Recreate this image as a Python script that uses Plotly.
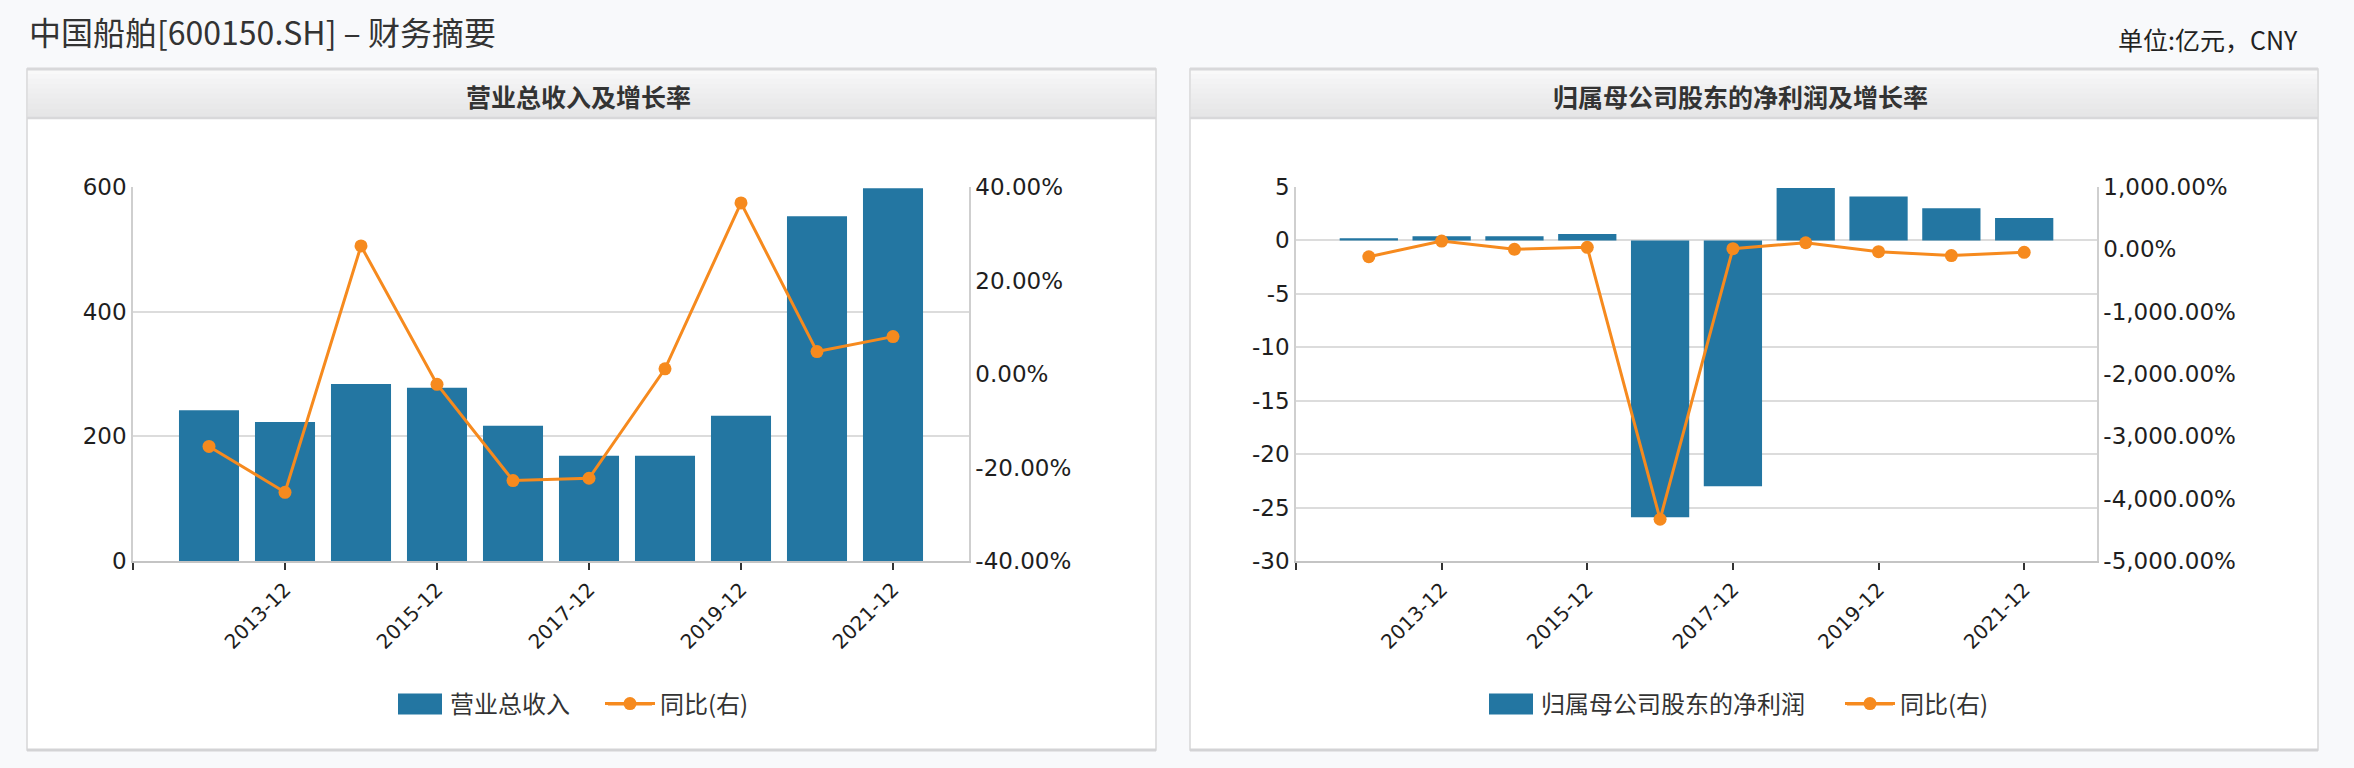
import plotly.graph_objects as go

# ---------------- data ----------------
categories = ["2012-12", "2013-12", "2014-12", "2015-12", "2016-12",
              "2017-12", "2018-12", "2019-12", "2020-12", "2021-12"]
revenue = [242, 223, 284, 278, 217, 169, 169, 233, 553, 598]          # 亿元
revenue_yoy = [-15.5, -25.3, 27.4, -2.2, -22.8, -22.3, 1.1, 36.6, 4.8, 8.0]  # %
net_profit = [0.2, 0.4, 0.4, 0.6, -25.9, -23.0, 4.9, 4.1, 3.0, 2.1]   # 亿元
profit_yoy = [-119, 133, 0, 32, -4330, 11, 106, -38, -100, -48]       # %

rev_ticks = [0, 200, 400, 600]
rev_pct_ticks = [-40, -20, 0, 20, 40]
np_ticks = [-30, -25, -20, -15, -10, -5, 0, 5]
np_pct_ticks = [-5000, -4000, -3000, -2000, -1000, 0, 1000]

title_text = "中国船舶[600150.SH] – 财务摘要"
unit_text = "单位:亿元，CNY"
panel1_title = "营业总收入及增长率"
panel2_title = "归属母公司股东的净利润及增长率"
bar1_name = "营业总收入"
bar2_name = "归属母公司股东的净利润"
line_name = "同比(右)"

# ---------------- style ----------------
W, H = 2354, 768
BLUE = "#2376a2"
ORANGE = "#f68a1e"
GRID = "#dcdcdc"
AXIS = "#cfcfcf"
TXT = "#1e1e1e"
CJK = "Noto Sans CJK SC, Noto Sans, sans-serif"
NUM = "DejaVu Sans, Verdana, sans-serif"


def px(x):
    return x / W


def py(y):
    return 1 - y / H


xi = list(range(len(categories)))
odd = [i for i in xi if i % 2 == 1]
xtickvals = [-1] + odd
xticktext = [""] + [categories[i] for i in odd]

fig = go.Figure()
fig.add_trace(go.Bar(x=xi, y=revenue, name=bar1_name, marker_color=BLUE,
                     marker_line_width=0, width=0.79, xaxis="x", yaxis="y",
                     legend="legend"))
fig.add_trace(go.Scatter(x=xi, y=revenue_yoy, name=line_name, mode="lines+markers",
                         line=dict(color=ORANGE, width=3),
                         marker=dict(color=ORANGE, size=13),
                         xaxis="x", yaxis="y2", legend="legend2"))
fig.add_trace(go.Bar(x=xi, y=net_profit, name=bar2_name, marker_color=BLUE,
                     marker_line_width=0, width=0.8, xaxis="x2", yaxis="y3",
                     legend="legend3"))
fig.add_trace(go.Scatter(x=xi, y=profit_yoy, name=line_name, mode="lines+markers",
                         line=dict(color=ORANGE, width=3),
                         marker=dict(color=ORANGE, size=13),
                         xaxis="x2", yaxis="y4", legend="legend4"))

ytop, ybot = 187, 561
common_x = dict(range=[-1, 10], tickmode="array", tickvals=xtickvals, ticktext=xticktext,
                tickangle=-45, ticks="outside", ticklen=7, tickwidth=1.5, tickcolor="#333",
                showline=True, linecolor="#c4c4c4", linewidth=2, showgrid=False,
                zeroline=False, tickfont=dict(family=NUM, size=20, color=TXT),
                fixedrange=True, automargin=False)
common_y = dict(showgrid=True, gridcolor=GRID, gridwidth=1.5, showline=True,
                linecolor=AXIS, linewidth=1.5, zeroline=False, ticks="",
                tickfont=dict(family=NUM, size=23, color=TXT), fixedrange=True,
                automargin=False)
common_y2 = dict(showgrid=False, showline=True, linecolor=AXIS, linewidth=1.5,
                 zeroline=False, ticks="", tickfont=dict(family=NUM, size=23, color=TXT),
                 fixedrange=True, automargin=False)


def legend_at(x_start):
    return dict(orientation="h", x=px(x_start), xanchor="left", y=py(704),
                yanchor="middle", font=dict(family=CJK, size=24, color="#333"),
                bgcolor="rgba(0,0,0,0)", borderwidth=0, itemwidth=50,
                itemclick=False, itemdoubleclick=False)


fig.update_layout(
    width=W, height=H, autosize=False,
    margin=dict(l=0, r=0, t=0, b=0, pad=0, autoexpand=False),
    paper_bgcolor="#f8f9fb", plot_bgcolor="white",
    xaxis=dict(domain=[px(133), px(969)], anchor="y", **common_x),
    yaxis=dict(domain=[py(ybot), py(ytop)], anchor="x", range=[0, 600],
               tickvals=rev_ticks, ticktext=[f"{v:,}" for v in rev_ticks], **common_y),
    yaxis2=dict(overlaying="y", side="right", anchor="x", range=[-40, 40],
                tickvals=rev_pct_ticks, ticktext=[f"{v:,.2f}%" for v in rev_pct_ticks],
                **common_y2),
    xaxis2=dict(domain=[px(1296), px(2097)], anchor="y3", **common_x),
    yaxis3=dict(domain=[py(ybot), py(ytop)], anchor="x2", range=[-30, 5],
                tickvals=np_ticks, ticktext=[f"{v:,}" for v in np_ticks], **common_y),
    yaxis4=dict(overlaying="y3", side="right", anchor="x2", range=[-5000, 1000],
                tickvals=np_pct_ticks, ticktext=[f"{v:,.2f}%" for v in np_pct_ticks],
                **common_y2),
    legend=legend_at(390),
    legend2=legend_at(600),
    legend3=legend_at(1481),
    legend4=legend_at(1840),
    showlegend=True,
)

# ---------------- panels & legend swatch backings (decoration) ----------------
shapes = []
panels = [(27, 1156), (1190, 2318)]
top, bottom, head_bottom = 69, 750, 118
grad = ["#f9f9f9", "#f6f6f7", "#f3f3f4", "#f1f1f2", "#efeff0",
        "#ededee", "#ebebec", "#e9e9ea", "#e7e7e8", "#e6e6e7"]
for (l, r) in panels:
    shapes.append(dict(type="rect", xref="paper", yref="paper", x0=px(l), x1=px(r),
                       y0=py(bottom), y1=py(top), fillcolor="white",
                       line=dict(color="#d6d6d8", width=1.5), layer="below"))
    n = len(grad)
    step = (head_bottom - top) / n
    for k, c in enumerate(grad):
        shapes.append(dict(type="rect", xref="paper", yref="paper",
                           x0=px(l + 1), x1=px(r - 1),
                           y0=py(top + (k + 1) * step + 0.5), y1=py(top + k * step),
                           fillcolor=c, line=dict(width=0), layer="below"))
    shapes.append(dict(type="line", xref="paper", yref="paper", x0=px(l), x1=px(r),
                       y0=py(top), y1=py(top), line=dict(color="#d8d8da", width=3),
                       layer="below"))
    shapes.append(dict(type="line", xref="paper", yref="paper", x0=px(l), x1=px(r),
                       y0=py(head_bottom), y1=py(head_bottom),
                       line=dict(color="#d8d8da", width=2.5), layer="below"))
    shapes.append(dict(type="line", xref="paper", yref="paper", x0=px(l), x1=px(r),
                       y0=py(bottom), y1=py(bottom), line=dict(color="#d3d3d5", width=3),
                       layer="below"))

for cx in (420, 1511):
    shapes.append(dict(type="rect", xref="paper", yref="paper",
                       x0=px(cx - 22), x1=px(cx + 22), y0=py(714.5), y1=py(693.5),
                       fillcolor=BLUE, line=dict(width=0)))
for (a, b) in ((608, 652), (1847, 1893)):
    shapes.append(dict(type="line", xref="paper", yref="paper",
                       x0=px(a), x1=px(b), y0=py(704), y1=py(704),
                       line=dict(color=ORANGE, width=3)))
fig.update_layout(shapes=shapes)

annotations = [
    dict(text=title_text, x=px(27), y=py(31), xanchor="left", yanchor="middle",
         font=dict(family=CJK, size=32, color="#333")),
    dict(text=unit_text, x=px(2300), y=py(39), xanchor="right", yanchor="middle",
         font=dict(family=CJK, size=25, color="#222")),
    dict(text=panel1_title, x=px(578), y=py(96), xanchor="center", yanchor="middle",
         font=dict(family=CJK, size=25, color="#333", weight="bold")),
    dict(text=panel2_title, x=px(1740), y=py(96), xanchor="center", yanchor="middle",
         font=dict(family=CJK, size=25, color="#333", weight="bold")),
]
for a in annotations:
    a.update(xref="paper", yref="paper", showarrow=False)
fig.update_layout(annotations=annotations)

fig.write_html("out.html", config={"displayModeBar": False},
               post_script="document.body.style.margin='0';"
                           "document.body.style.overflow='hidden';")
